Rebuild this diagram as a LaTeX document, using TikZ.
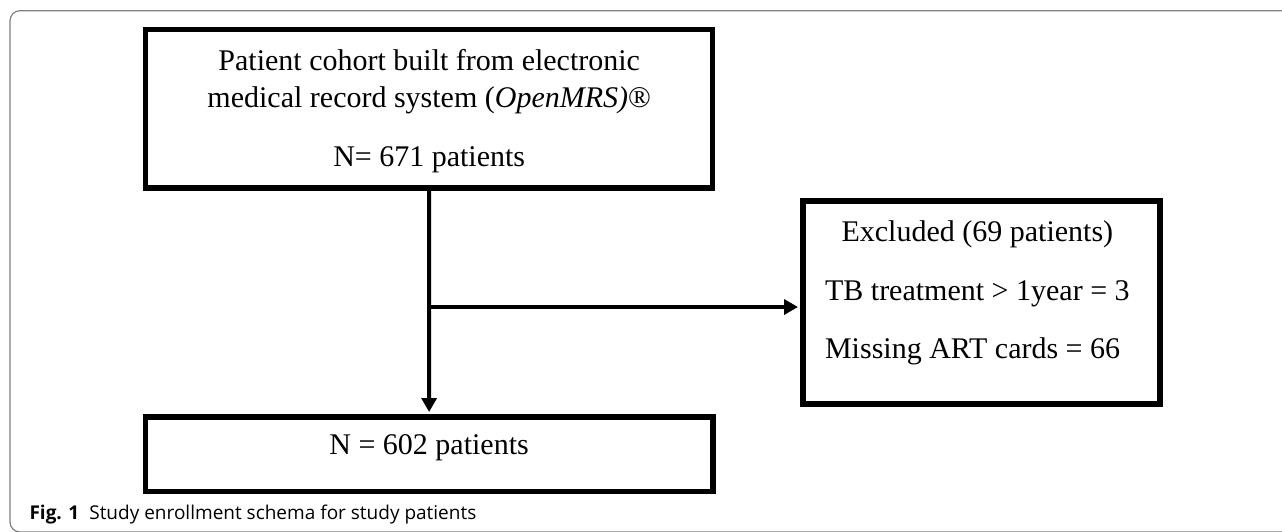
\documentclass[tikz,border=0pt]{standalone}
\usepackage{fontspec}
\setmainfont{Liberation Serif}
\setsansfont{Open Sans}
\usetikzlibrary{arrows.meta}

\tikzset{
  box/.style={draw,line width=5.5pt,inner sep=0pt,font=\fontsize{30}{37}\selectfont},
  flow/.style={line width=4pt,-{Triangle[length=14pt,width=15pt]},shorten >=2pt},
}

\begin{document}
\begin{tikzpicture}[x=1pt,y=-1pt]
  \useasboundingbox (0,0) rectangle (1282,531);
  % frame round the figure
  \draw[black!50,line width=1.2pt,rounded corners=10pt] (10,10.7) rectangle (1300,532);
  % the three boxes
  \node[box,minimum width=567pt,minimum height=158.5pt,align=center,text depth=2pt] (cohort) at (429.2,108.7)
    {Patient cohort built from electronic\\ medical record system (\textit{OpenMRS)}®\\[22pt] N= 671 patients};
  \node[box,minimum width=357.2pt,minimum height=199.5pt,font=\fontsize{30}{58.3}\selectfont] (excl) at (981.35,302.5)
    {\begin{tabular}{@{}l@{\hspace{8pt}}}
      \multicolumn{1}{@{}c@{\hspace{8pt}}}{Excluded (69 patients)}\\
      TB treatment > 1year = 3\\
      Missing ART cards = 66\\[28pt]
    \end{tabular}};
  \node[box,minimum width=567.3pt,minimum height=74.5pt,text depth=18.5pt] (final) at (429.1,454) {N = 602 patients};
  % arrows
  \coordinate (split) at (cohort.south |- 0,307);
  \draw[flow] (cohort.south) -- (final.north);
  \draw[flow] (split) -- (split -| excl.west);
  % caption
  \node[anchor=base west,font=\sffamily\fontsize{19}{22}\selectfont] (caption) at (26,519)
    {\textbf{Fig. 1}\hspace{10pt}Study enrollment schema for study patients};
\end{tikzpicture}
\end{document}
